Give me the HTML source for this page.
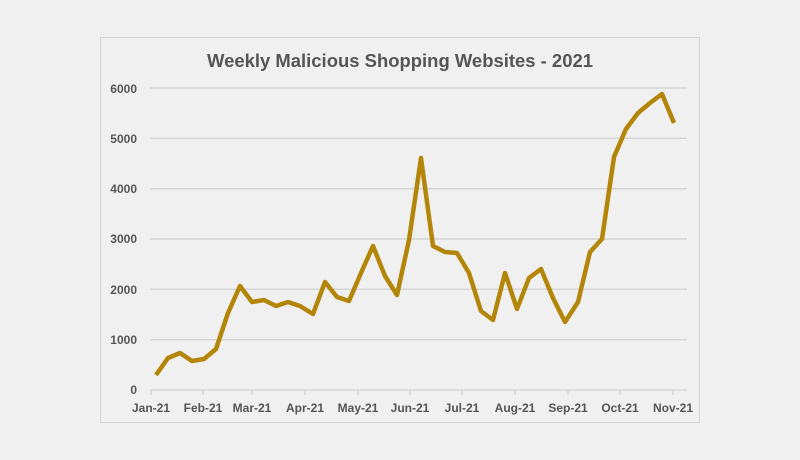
<!DOCTYPE html>
<html><head><style>
body{margin:0;background:#f0f0f0;}
svg{display:block;font-family:"Liberation Sans",sans-serif;}
</style></head><body>
<svg width="800" height="460" viewBox="0 0 800 460">
<rect x="0" y="0" width="800" height="460" fill="#f0f0f0"/>
<rect x="100.5" y="37.5" width="599" height="385" fill="#f0f0f0" stroke="#d4d4d4"/>
<text x="400" y="67" text-anchor="middle" font-size="18.5" font-weight="bold" fill="#555" textLength="386" lengthAdjust="spacingAndGlyphs">Weekly Malicious Shopping Websites - 2021</text>
<g stroke="#d6d6d6" stroke-width="1.5">
<line x1="150" x2="687" y1="88" y2="88"/>
<line x1="150" x2="687" y1="138.3" y2="138.3"/>
<line x1="150" x2="687" y1="188.7" y2="188.7"/>
<line x1="150" x2="687" y1="239" y2="239"/>
<line x1="150" x2="687" y1="289.3" y2="289.3"/>
<line x1="150" x2="687" y1="339.7" y2="339.7"/>
<line x1="150" x2="687" y1="390" y2="390"/>
<line x1="151" x2="151" y1="390" y2="395"/><line x1="203" x2="203" y1="390" y2="395"/>
<line x1="252" x2="252" y1="390" y2="395"/><line x1="305" x2="305" y1="390" y2="395"/>
<line x1="358" x2="358" y1="390" y2="395"/><line x1="410" x2="410" y1="390" y2="395"/>
<line x1="462" x2="462" y1="390" y2="395"/><line x1="515" x2="515" y1="390" y2="395"/>
<line x1="568" x2="568" y1="390" y2="395"/><line x1="620" x2="620" y1="390" y2="395"/>
<line x1="673" x2="673" y1="390" y2="395"/>
</g>
<g font-size="12" font-weight="bold" fill="#555" text-anchor="end">
<text x="137" y="93">6000</text><text x="137" y="143">5000</text><text x="137" y="193">4000</text>
<text x="137" y="243">3000</text><text x="137" y="294">2000</text><text x="137" y="344">1000</text>
<text x="137" y="394">0</text>
</g>
<g font-size="12" font-weight="bold" fill="#555" text-anchor="middle">
<text x="151" y="412">Jan-21</text><text x="203" y="412">Feb-21</text><text x="252" y="412">Mar-21</text>
<text x="305" y="412">Apr-21</text><text x="358" y="412">May-21</text><text x="410" y="412">Jun-21</text>
<text x="462" y="412">Jul-21</text><text x="515" y="412">Aug-21</text><text x="568" y="412">Sep-21</text>
<text x="620" y="412">Oct-21</text><text x="673" y="412">Nov-21</text>
</g>
<polyline fill="none" stroke="#b3860a" stroke-width="4.5" stroke-linejoin="round" points="156,375 168,358 180,353 192,361 204,359 216,349 228,313 240,286 252,302 264,300 276,306 288,302 300,306 313,314 325,282 337,297 349,301 361,273 373,246 385,276 397,295 409,240 421,158 433,246 445,252 457,253 469,273 481,311 493,320 505,273 517,309 529,278 541,269 553,298 565,322 578,302 590,252 602,239 614,157 626,129 638,113 650,103 662,94 674,123"/>
</svg>
</body></html>
